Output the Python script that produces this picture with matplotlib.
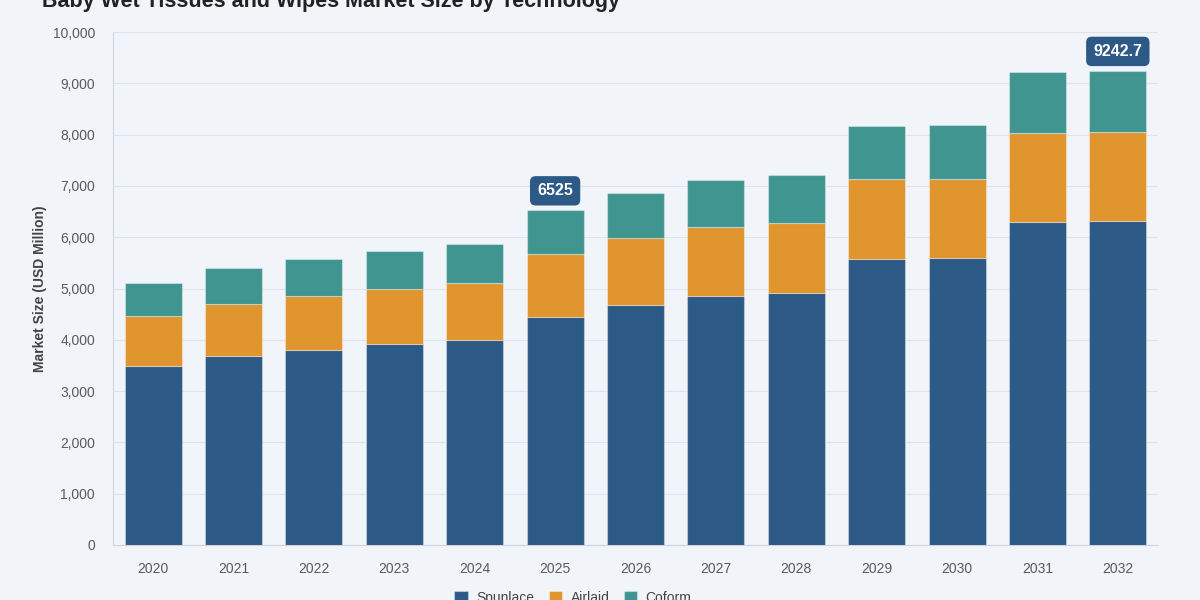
import matplotlib
matplotlib.use("Agg")
import matplotlib.pyplot as plt
import numpy as np

# datos
years = ["2020", "2021", "2022", "2023", "2024", "2025", "2026",
         "2027", "2028", "2029", "2030", "2031", "2032"]
spunlace = [3490, 3680, 3800, 3920, 4000, 4450, 4680, 4850, 4910, 5575, 5585, 6300, 6315]
airlaid = [975, 1020, 1055, 1070, 1105, 1225, 1305, 1350, 1365, 1550, 1540, 1725, 1740]
coform = [645, 700, 720, 740, 760, 850, 875, 915, 935, 1050, 1070, 1190, 1187.7]
etiquetas = {"2025": "6525", "2032": "9242.7"}

fondo = "#f1f4f9"
c_spun = "#2d5986"
c_air = "#e0952e"
c_cof = "#419590"

plt.rcParams['font.family'] = ['Liberation Sans', 'DejaVu Sans']

fig = plt.figure(figsize=(12, 6), dpi=100, facecolor=fondo)
ax = fig.add_axes([113/1200, 1 - 545/600, (1158 - 113)/1200, (545 - 32)/600])
ax.set_facecolor(fondo)

x = np.arange(len(years))
ancho = 0.71
borde = dict(edgecolor=(1, 1, 1, 0.35), linewidth=0.8)

b1 = ax.bar(x, spunlace, ancho, color=c_spun, label="Spunlace", zorder=3, **borde)
base2 = np.array(spunlace)
b2 = ax.bar(x, airlaid, ancho, bottom=base2, color=c_air, label="Airlaid", zorder=3, **borde)
base3 = base2 + np.array(airlaid)
b3 = ax.bar(x, coform, ancho, bottom=base3, color=c_cof, label="Coform", zorder=3, **borde)

total = base3 + np.array(coform)
for i, y in enumerate(years):
    if y in etiquetas:
        ax.annotate(etiquetas[y], (x[i], total[i]), xytext=(0, 14),
                    textcoords="offset points", ha="center", va="center",
                    color="white", fontsize=11.5, fontweight="bold", zorder=5,
                    bbox=dict(boxstyle="round,pad=0.45,rounding_size=0.35",
                              fc=c_spun, ec="none"))

ax.set_xlim(-0.5, len(years) - 0.5)
ax.set_ylim(0, 10000)
ax.set_yticks(np.arange(0, 10001, 1000))
ax.set_yticklabels([f"{v:,}" for v in range(0, 10001, 1000)])
ax.set_xticks(x)
ax.set_xticklabels(years)
ax.tick_params(axis="both", length=0, labelsize=10, colors="#5a5a5a")
ax.tick_params(axis="x", pad=12)
ax.tick_params(axis="y", pad=13)

ax.grid(axis="y", color="#dfe3ea", linewidth=0.8, zorder=0)
for lado in ["top", "right"]:
    ax.spines[lado].set_visible(False)
ax.spines["left"].set_color("#cfd4dc")
ax.spines["bottom"].set_color("#cfd4dc")

ax.set_ylabel("Market Size (USD Million)", fontsize=10, fontweight="bold",
              color="#444444", labelpad=4)

fig.text(42/1200, 1 - 7/600, "Baby Wet Tissues and Wipes Market Size by Technology",
         fontsize=15.5, fontweight="bold", color="#222222", va="baseline", ha="left")

fig.legend(handles=[b1, b2, b3], loc="center", bbox_to_anchor=(573/1200, 1 - 598/600),
           ncol=3, frameon=False, fontsize=10, handlelength=1.0, handleheight=1.0,
           columnspacing=1.0, handletextpad=0.6, labelcolor="#444444")

fig.savefig("out.png", dpi=100, facecolor=fondo)
